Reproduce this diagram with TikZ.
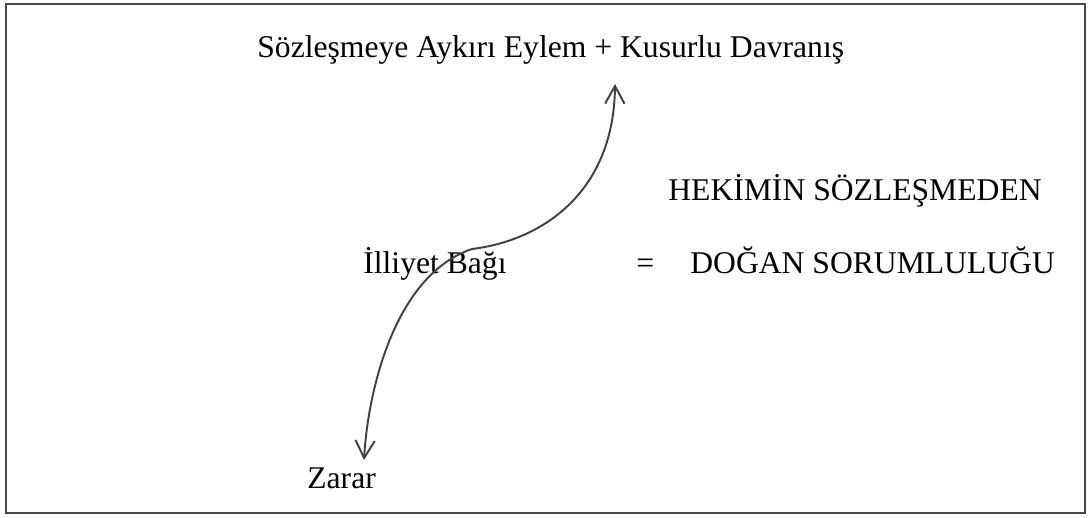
\documentclass[tikz,border=0pt]{standalone}
\usepackage{fontspec}
\setmainfont{Liberation Serif}
\usepackage{tikz}
\usetikzlibrary{arrows.meta}
\definecolor{FrameGray}{RGB}{72, 72, 72}
\definecolor{LineGray}{RGB}{64, 64, 64}
\tikzset{
  label text/.style={inner sep=0pt, anchor=base west, font=\fontsize{18}{21}\selectfont},
  link arrow/.style={draw=LineGray, line width=1.1pt,
    {Straight Barb[length=10pt, width=11pt]}-{Straight Barb[length=10pt, width=11pt]}}
}

\begin{document}
\begin{tikzpicture}[x=0.02cm, y=-0.02cm]
  \useasboundingbox (0,0) rectangle (1091,517);
  \draw[FrameGray, line width=1.5pt] (6,4) rectangle (1085,513);

  % texts
  \node[label text] (eylem) at (257,58) {Sözleşmeye Aykırı Eylem + Kusurlu Davranış};
  \node[label text] (baslik) at (668,200) {HEKİMİN SÖZLEŞMEDEN};
  \node[label text] (illiyet) at (363,273) {İlliyet Bağı};
  \node[label text] (esit) at (636,273) {=};
  \node[label text] (sorumluluk) at (690,273) {DOĞAN SORUMLULUĞU};
  \node[label text] (zarar) at (307,488) {Zarar};

  % causal link
  \coordinate (bottomtip) at (364,460);
  \coordinate (bend) at (472,249);
  \coordinate (toptip) at (615,84);
  \draw[link arrow] (bottomtip) .. controls (368,390) and (395,275) .. (bend)
    .. controls (545,240) and (614,190) .. (toptip);
\end{tikzpicture}
\end{document}
